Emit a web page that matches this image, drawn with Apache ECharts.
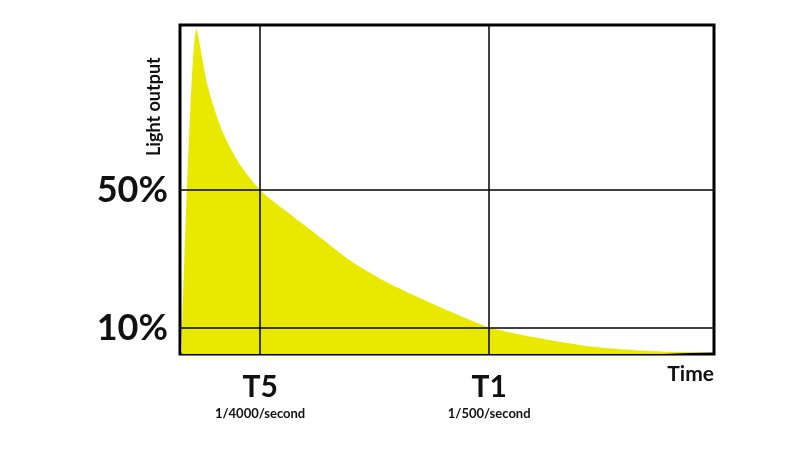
<!DOCTYPE html>
<html><head><meta charset="utf-8">
<script src="https://cdn.jsdelivr.net/npm/echarts@6/dist/echarts.min.js"></script>
<style>html,body{margin:0;background:#fff}#c{width:800px;height:450px}</style>
</head><body><div id="c"></div>
<script>
const timeValues = [0.3, 3.1, 5.2, 7.8, 11.0, 15.0, 19.4, 25.9, 32.4, 38.8, 45.3, 51.7, 57.9, 64.8, 77.8, 90.7, 100];
const outputValues = [0.6, 99.0, 81.6, 68.4, 58.3, 50.0, 44.1, 36.0, 27.9, 21.8, 16.8, 12.2, 8.1, 5.6, 2.1, 0.7, 0.6];
const xTickValues = [15, 57.9];
const xTickNames = ['T5', 'T1'];
const xTickSubs = ['1/4000/second', '1/500/second'];
const yTickValues = [7.9, 50];
const yTickNames = ['10%', '50%'];

const chart = echarts.init(document.getElementById('c'));
const F = 'Lato, "DejaVu Sans", sans-serif';
chart.setOption({
  animation: false,
  grid: {left: 180, right: 86, top: 25, bottom: 96, show: true, borderColor: '#000', borderWidth: 3, backgroundColor: 'transparent'},
  xAxis: {type: 'value', min: 0, max: 100, splitLine: {show: false}, axisLine: {show: false}, axisTick: {show: false},
    name: 'Time', nameLocation: 'end', nameGap: 0,
    nameTextStyle: {fontFamily: F, fontWeight: 'bold', fontSize: 21, color: '#111', align: 'right', verticalAlign: 'top', padding: [10, 0, 0, 0]},
    axisLabel: {customValues: xTickValues, margin: 16, fontFamily: F,
      formatter: v => { const i = xTickValues.indexOf(v); return '{a|' + xTickNames[i] + '}\n{b|' + xTickSubs[i] + '}'; },
      rich: {a: {fontSize: 30, fontWeight: 'bold', color: '#111', fontFamily: F, lineHeight: 34},
             b: {fontSize: 13, fontWeight: 'bold', color: '#111', fontFamily: F, lineHeight: 20}}}},
  yAxis: {type: 'value', min: 0, max: 100.3, splitLine: {show: false}, axisLine: {show: false}, axisTick: {show: false},
    axisLabel: {customValues: yTickValues, formatter: v => yTickNames[yTickValues.indexOf(v)], margin: 12,
      fontFamily: F, fontWeight: 'bold', fontSize: 36, color: '#111'}},
  graphic: [{type: 'text', x: 163, y: 156, rotation: Math.PI / 2,
    style: {x: 0, y: 0, text: 'Light output', align: 'left', verticalAlign: 'bottom', fontFamily: F, fontWeight: 'bold', fontSize: 18, fill: '#111'}}],
  series: [{type: 'line', data: timeValues.map((t, i) => [t, outputValues[i]]), smooth: 0.25, symbol: 'none',
    lineStyle: {width: 0}, areaStyle: {color: '#e9e900', opacity: 1},
    markLine: {silent: true, symbol: 'none', label: {show: false}, lineStyle: {color: '#000', width: 1.5, type: 'solid'},
      data: xTickValues.map(v => ({xAxis: v})).concat(yTickValues.map(v => ({yAxis: v})))}}]
});
</script></body></html>
